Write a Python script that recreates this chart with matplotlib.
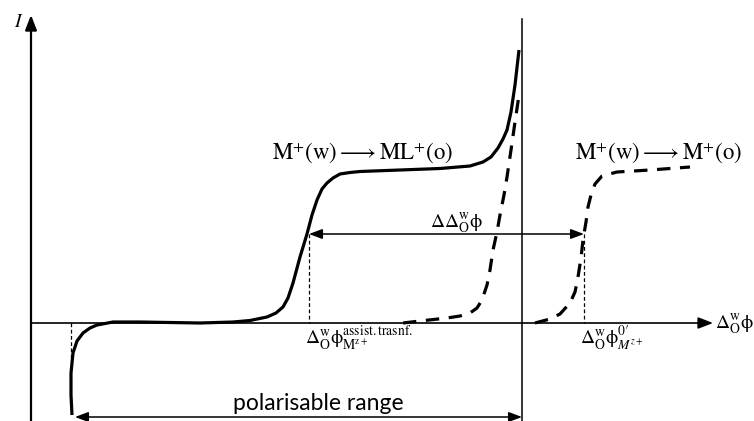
import matplotlib
matplotlib.use("Agg")
import matplotlib.pyplot as plt

plt.rcParams['mathtext.fontset'] = 'stix'
plt.rcParams['mathtext.default'] = 'rm'

# Curves (pixel-like schematic coordinates)
solid_x = [72, 71, 71, 73, 77, 83, 90, 97, 113, 140, 170, 200, 233, 250, 267, 276, 283, 288,
           293, 300, 307, 312, 317, 322, 327, 333, 340, 350, 360, 400, 440, 470, 483, 491,
           498, 503, 507, 511, 515, 519]
solid_y = [415, 395, 373, 353, 341, 333, 328, 325, 322, 322, 322.5, 323, 322, 320.5, 317, 313,
           307, 298, 283, 257, 234, 215, 200, 189, 183, 178, 174, 172.5, 171.5, 170, 168.5,
           166, 162, 157, 148, 139, 130, 112, 85, 50]

dash1_x = [403, 420, 447, 460, 470, 477, 482, 487, 490, 493, 497, 500, 504, 507, 511, 515, 519]
dash1_y = [323, 321, 318, 316, 313, 308, 300, 285, 270, 250, 232, 215, 195, 177, 150, 122, 95]

dash2_x = [535, 550, 560, 570, 575, 578, 581, 583, 586, 588, 591, 595, 602, 617, 650, 690]
dash2_y = [323, 319, 314, 303, 292, 277, 258, 240, 222, 207, 195, 184, 176, 172, 170, 167]

# Key positions
axis_x0, axis_y0 = 31, 323
x_axis_end, y_axis_top = 713, 15
limit_x = 522
e_assist, e_std = 309, 584
e_low = 71
dd_y = 234
pol_y = 417

fig = plt.figure(figsize=(7.54, 4.21), dpi=100)
ax = fig.add_axes([0, 0, 1, 1])
ax.set_xlim(0, 754)
ax.set_ylim(421, 0)
ax.axis('off')

# axes arrows
ax.annotate('', xy=(axis_x0, y_axis_top), xytext=(axis_x0, 421),
            arrowprops=dict(arrowstyle='-|>,head_length=0.9,head_width=0.35', lw=1.6,
                            color='black', shrinkA=0, shrinkB=0))
ax.annotate('', xy=(x_axis_end, axis_y0), xytext=(axis_x0, axis_y0),
            arrowprops=dict(arrowstyle='-|>,head_length=0.9,head_width=0.35', lw=1.2,
                            color='black', shrinkA=0, shrinkB=0))

# vertical limit line
ax.plot([limit_x, limit_x], [19, 421], color='black', lw=1.1)

# curves
ax.plot(solid_x, solid_y, color='black', lw=2.3, solid_capstyle='butt')
ax.plot(dash1_x, dash1_y, color='black', lw=2.3, dashes=(4.2, 3))
ax.plot(dash2_x, dash2_y, color='black', lw=2.3, dashes=(4.2, 3))

# thin dashed verticals
for xv, yt, yb in [(e_assist, dd_y, axis_y0), (e_std, dd_y, axis_y0), (e_low, axis_y0, 360)]:
    ax.plot([xv, xv], [yt, yb], color='black', lw=0.9, dashes=(3, 2))

# double arrows
ax.annotate('', xy=(e_assist, dd_y), xytext=(e_std, dd_y),
            arrowprops=dict(arrowstyle='<|-|>,head_length=0.8,head_width=0.3', lw=1.1,
                            color='black', shrinkA=0, shrinkB=0))
ax.annotate('', xy=(75, pol_y), xytext=(limit_x, pol_y),
            arrowprops=dict(arrowstyle='<|-|>,head_length=0.8,head_width=0.3', lw=1.1,
                            color='black', shrinkA=0, shrinkB=0))

# texts
ax.text(14, 27, r'$\mathit{I}$', fontsize=14, ha='left', va='baseline')
ax.text(272, 160, r'$M^{+}(w)\longrightarrow ML^{+}(o)$', fontsize=16.5,
        ha='left', va='baseline')
ax.text(575, 160, r'$M^{+}(w)\longrightarrow M^{+}(o)$', fontsize=16.5,
        ha='left', va='baseline')
ax.text(456, 228, r'$\Delta\Delta_{O}^{w}\phi$', fontsize=14,
        ha='center', va='baseline')
ax.text(305, 345, r'$\Delta_{O}^{w}\phi_{M^{z+}}^{assist.trasnf.}$',
        fontsize=14, ha='left', va='baseline')
ax.text(580, 345, r"$\Delta_{O}^{w}\phi_{\mathit{M}^{\mathit{z}+}}^{0\prime}$",
        fontsize=14, ha='left', va='baseline')
ax.text(715, 329, r'$\Delta_{O}^{w}\phi$', fontsize=14,
        ha='left', va='baseline')
ax.text(318, 410, 'polarisable range', fontsize=16.5, family='Lato',
        ha='center', va='baseline')

fig.savefig('out.png', dpi=100)
